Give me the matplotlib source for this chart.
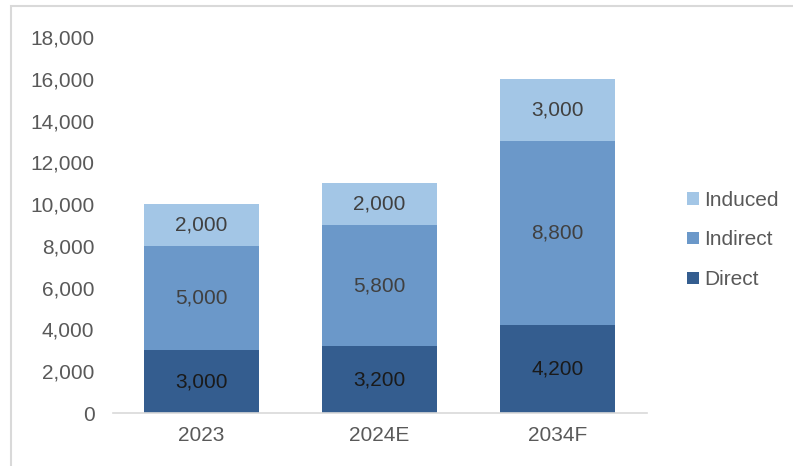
import matplotlib
matplotlib.use("Agg")
import matplotlib.pyplot as plt
from matplotlib.patches import Rectangle
import numpy as np

categories = ["2023", "2024E", "2034F"]
direct = [3000, 3200, 4200]
indirect = [5000, 5800, 8800]
induced = [2000, 2000, 3000]

series = [("Direct", direct, "#345d8f", "#1a1a1a"),
          ("Indirect", indirect, "#6b98c9", "#404040"),
          ("Induced", induced, "#a3c6e6", "#404040")]

plt.rcParams["font.family"] = ["Liberation Sans", "DejaVu Sans"]

fig = plt.figure(figsize=(7.93, 4.66), dpi=100)
ax = fig.add_axes([0.1419, 0.1137, 0.6734, 0.8069])

x = np.arange(len(categories))
bottom = np.zeros(len(categories))
handles = []
for name, vals, col, tcol in series:
    vals = np.array(vals, dtype=float)
    b = ax.bar(x, vals, 0.646, bottom=bottom, color=col, label=name, zorder=2)
    handles.append(b)
    for xi, v, b0 in zip(x, vals, bottom):
        ax.text(xi, b0 + v / 2, f"{int(v):,}", ha="center", va="center",
                fontsize=15, color=tcol)
    bottom += vals

ax.set_xlim(-0.5, 2.5)
ax.set_ylim(0, 18000)
ax.set_yticks(range(0, 18001, 2000))
ax.set_yticklabels([f"{v:,}" for v in range(0, 18001, 2000)])
ax.set_xticks(x)
ax.set_xticklabels(categories)
ax.tick_params(length=0, labelsize=15, colors="#595959")
ax.tick_params(axis="y", pad=13)
ax.tick_params(axis="x", pad=9)
for s in ["top", "right", "left"]:
    ax.spines[s].set_visible(False)
ax.spines["bottom"].set_color("#d9d9d9")
ax.spines["bottom"].set_linewidth(1.2)

leg = fig.legend(handles[::-1], [s[0] for s in series][::-1],
                 loc="center left", bbox_to_anchor=(0.843, 0.485),
                 frameon=False, fontsize=15, handlelength=0.55, handleheight=0.55,
                 handletextpad=0.25, labelspacing=1.0, labelcolor="#595959")

fig.patches.append(Rectangle((11 / 793, -0.1), 1.2, (466 - 6) / 466 + 0.1,
                             transform=fig.transFigure, fill=False,
                             edgecolor="#d9d9d9", lw=1.5))

fig.savefig("out.png", dpi=100)
